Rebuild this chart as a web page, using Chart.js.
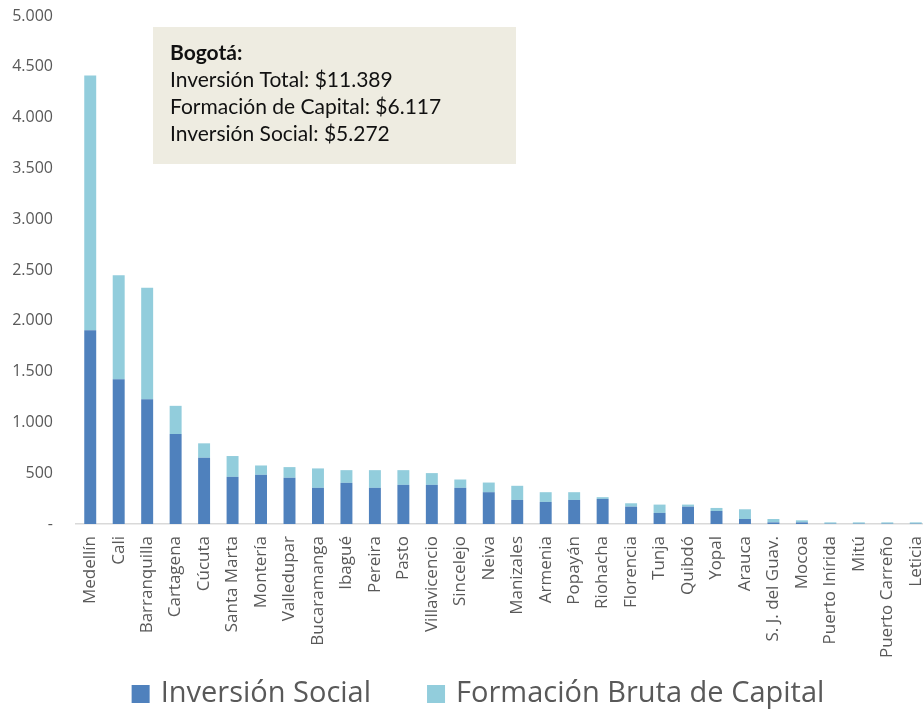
<!DOCTYPE html>
<html><head><meta charset="utf-8">
<script src="https://cdn.jsdelivr.net/npm/chart.js@4.4.0/dist/chart.umd.min.js"></script>
<style>html,body{margin:0;padding:0;overflow:hidden;background:#fff}#wrap{width:956px;height:710px}</style>
</head><body><div id="wrap"><canvas id="c" width="956" height="710"></canvas></div>
<script>
const categories = ['Medellín','Cali','Barranquilla','Cartagena','Cúcuta','Santa Marta','Montería','Valledupar','Bucaramanga','Ibagué','Pereira','Pasto','Villavicencio','Sincelejo','Neiva','Manizales','Armenia','Popayán','Riohacha','Florencia','Tunja','Quibdó','Yopal','Arauca','S. J. del Guav.','Mocoa','Puerto Inírida','Mitú','Puerto Carreño','Leticia'];
const inversionSocial = [1907,1425,1228,886,652,464,484,455,356,405,356,385,385,356,313,237,217,237,247,171,109,171,128,49,16,16,3,3,3,3];
const formacionCapital = [2508,1023,1098,277,142,205,92,105,191,125,174,145,116,82,95,139,96,76,17,33,82,20,30,96,33,20,13,13,13,13];
const yTickValues = [0,500,1000,1500,2000,2500,3000,3500,4000,4500,5000];
const seriesNames = ['Inversión Social','Formación Bruta de Capital'];
const noteTitle = 'Bogotá:';
const noteLines = ['Inversión Total: $11.389','Formación de Capital: $6.117','Inversión Social: $5.272'];

const colSocial = '#4F81BD', colCap = '#92CDDC', txt = '#595959';

function fmt(v){ return v === 0 ? '-' : String(v).replace(/\B(?=(\d{3})+(?!\d))/g, '.'); }

const notePlugin = {
  id: 'note',
  afterDraw(chart){
    const ctx = chart.ctx;
    ctx.save();
    ctx.fillStyle = '#EEECE1';
    ctx.fillRect(153, 27, 363, 137);
    ctx.fillStyle = '#111';
    ctx.textBaseline = 'middle';
    ctx.textAlign = 'left';
    ctx.font = 'bold 21px Lato';
    ctx.fillText(noteTitle, 170, 53);
    ctx.font = '21px Lato';
    noteLines.forEach((l, i) => ctx.fillText(l, 170, 80 + i * 27));
    // legend
    ctx.font = '29px "Open Sans"';
    const w1 = ctx.measureText(seriesNames[0]).width, w2 = ctx.measureText(seriesNames[1]).width;
    const box = 18, g1 = 11, g2 = 56;
    const total = box + g1 + w1 + g2 + box + g1 + w2;
    let x = 478 - total / 2;
    const cy = 694;
    ctx.fillStyle = colSocial; ctx.fillRect(x, cy - 9, box, box);
    ctx.fillStyle = txt; ctx.fillText(seriesNames[0], x + box + g1, cy);
    x += box + g1 + w1 + g2;
    ctx.fillStyle = colCap; ctx.fillRect(x, cy - 9, box, box);
    ctx.fillStyle = txt; ctx.fillText(seriesNames[1], x + box + g1, cy);
    ctx.restore();
  }
};

new Chart(document.getElementById('c'), {
  type: 'bar',
  data: {
    labels: categories,
    datasets: [
      { label: seriesNames[0], data: inversionSocial, backgroundColor: colSocial, barPercentage: 0.42, categoryPercentage: 1 },
      { label: seriesNames[1], data: formacionCapital, backgroundColor: colCap, barPercentage: 0.42, categoryPercentage: 1 }
    ]
  },
  options: {
    responsive: false,
    animation: false,
    layout: { padding: { top: 16, right: 26, left: 0, bottom: 0 } },
    plugins: { legend: { display: false }, tooltip: { enabled: false } },
    scales: {
      x: {
        stacked: true,
        grid: { display: false, drawTicks: false },
        border: { display: true, color: '#D9D9D9', width: 1.5 },
        ticks: { autoSkip: false, minRotation: 90, maxRotation: 90, padding: 12, color: txt, font: { family: 'Open Sans', size: 17 } },
        afterFit(s){ s.height = 186; s.paddingTop = 0; s.paddingBottom = 0; }
      },
      y: {
        stacked: true,
        min: 0, max: 5000,
        afterBuildTicks(s){ s.ticks = yTickValues.map(v => ({ value: v })); },
        grid: { display: false, drawTicks: false },
        border: { display: false },
        ticks: { padding: 23, color: txt, font: { family: 'Open Sans', size: 16 }, callback: v => fmt(v) },
        afterFit(s){ s.width = 76; s.paddingTop = 0; s.paddingBottom = 0; }
      }
    }
  },
  plugins: [notePlugin]
});
</script></body></html>
